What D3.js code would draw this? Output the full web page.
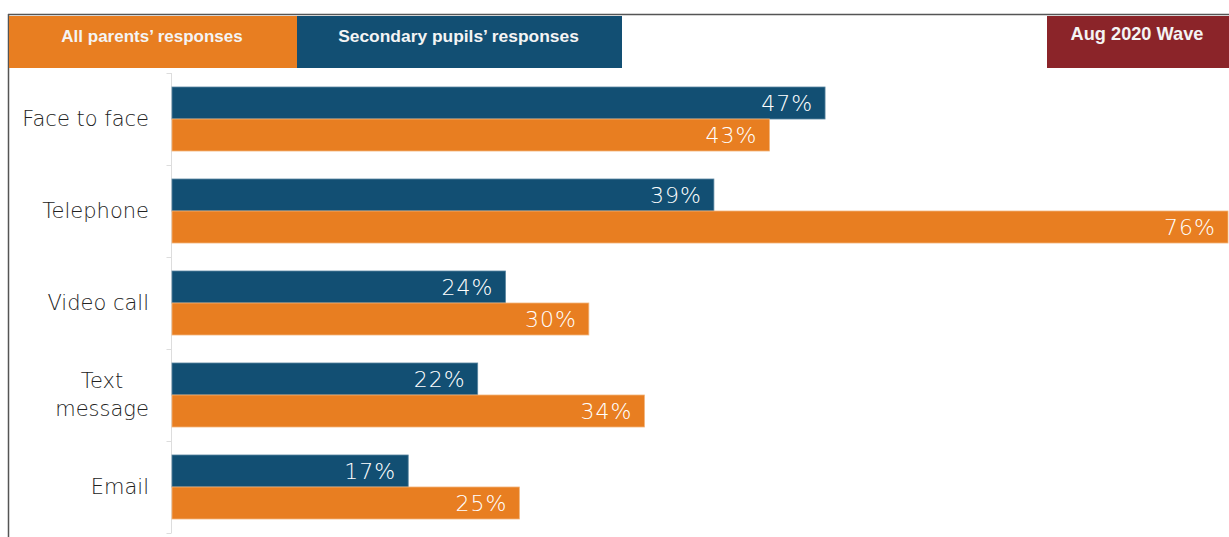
<!DOCTYPE html>
<html><head><meta charset="utf-8">
<script src="https://cdn.jsdelivr.net/npm/d3@7"></script>
<style>body{margin:0;background:#fff}svg{display:block}</style>
</head><body>
<svg id="c" width="1229" height="537"></svg>
<script>
const categories = ["Face to face", "Telephone", "Video call", "Text message", "Email"];
const pupils = [47, 39, 24, 22, 17];
const parents = [43, 76, 30, 34, 25];
const seriesNames = ["Secondary pupils’ responses", "All parents’ responses"];
const headerLabels = ["All parents’ responses", "Secondary pupils’ responses", "Aug 2020 Wave"];

const svg = d3.select("#c");
const W = 1229, H = 537;
const blue = "#124f73", orange = "#e87e21", red = "#8b2429";

// frame
svg.append("line").attr("x1", 8).attr("x2", W).attr("y1", 14.5).attr("y2", 14.5).attr("stroke", "#555").attr("stroke-width", 1.5);
svg.append("line").attr("x1", 8.5).attr("x2", 8.5).attr("y1", 14).attr("y2", H).attr("stroke", "#555").attr("stroke-width", 1.5);

// headers
const headers = [
  {t: headerLabels[0], x0: 9, x1: 297, c: orange, fs: 17, yb: 42},
  {t: headerLabels[1], x0: 297, x1: 622, c: blue, fs: 17.4, yb: 42},
  {t: headerLabels[2], x0: 1047, x1: W, c: red, fs: 18.2, yb: 40}
];
const hg = svg.append("g");
hg.selectAll("rect").data(headers).join("rect")
  .attr("x", d => d.x0).attr("y", 16).attr("width", d => d.x1 - d.x0).attr("height", 52).attr("fill", d => d.c);
hg.selectAll("text").data(headers).join("text")
  .attr("x", d => (d.x0 + d.x1) / 2 - 1).attr("y", d => d.yb)
  .attr("text-anchor", "middle").attr("fill", "#f4f4f4")
  .attr("font-family", "Liberation Sans, Arial, sans-serif").attr("font-weight", "bold").attr("font-size", d => d.fs)
  .text(d => d.t);

// scales
const y = d3.scaleBand().domain(categories).range([73, 533]).paddingInner(0.3043).paddingOuter(0.1522);
const x = d3.scaleLinear().domain([0, 76]).range([172, 1228]);

// axis
const ax = svg.append("g").attr("transform", "translate(171.5,0)");
ax.append("line").attr("y1", 73).attr("y2", 533).attr("stroke", "#ddd");
const bounds = d3.range(categories.length + 1).map(i => 73 + i * y.step());
ax.selectAll(".tk").data(bounds).join("line").attr("class", "tk")
  .attr("x1", -5).attr("x2", 0).attr("y1", d => d + 0.5).attr("y2", d => d + 0.5).attr("stroke", "#ddd");

// category labels
const lab = svg.append("g").attr("font-family", "DejaVu Sans, sans-serif").attr("font-size", 21).attr("fill", "#222");
categories.forEach(c => {
  const words = c === "Text message" ? ["Text", "message"] : [c];
  const cy = y(c) + y.bandwidth() / 2;
  const multi = words.length > 1;
  const t = lab.append("text").attr("text-anchor", multi ? "middle" : "end")
    .attr("transform", `translate(${multi ? 102 : 149},${cy})`).attr("font-weight", 200);
  words.forEach((w, i) => {
    t.append("tspan").attr("x", 0)
      .attr("y", (i - (words.length - 1) / 2) * 28 + 7)
      .text(w);
  });
});

// bars
const rows = categories.map((c, i) => ({c, v: [pupils[i], parents[i]]}));
const g = svg.append("g");
const bh = y.bandwidth() / 2;
rows.forEach(r => {
  r.v.forEach((v, k) => {
    const top = y(r.c) + k * bh;
    g.append("rect").attr("x", x(0)).attr("y", top).attr("width", x(v) - x(0)).attr("height", bh)
      .attr("fill", k === 0 ? blue : orange)
      .attr("stroke", k === 0 ? "#5a86a0" : "#f3b47a").attr("stroke-width", 0.8);
    g.append("text").attr("x", x(v) - 12).attr("y", top + bh / 2 + 8)
      .attr("text-anchor", "end").attr("fill", "#fff")
      .attr("font-family", "DejaVu Sans, sans-serif").attr("font-weight", 200).attr("font-size", 22)
      .attr("letter-spacing", 1)
      .text(v + "%");
  });
});
</script>
</body></html>
